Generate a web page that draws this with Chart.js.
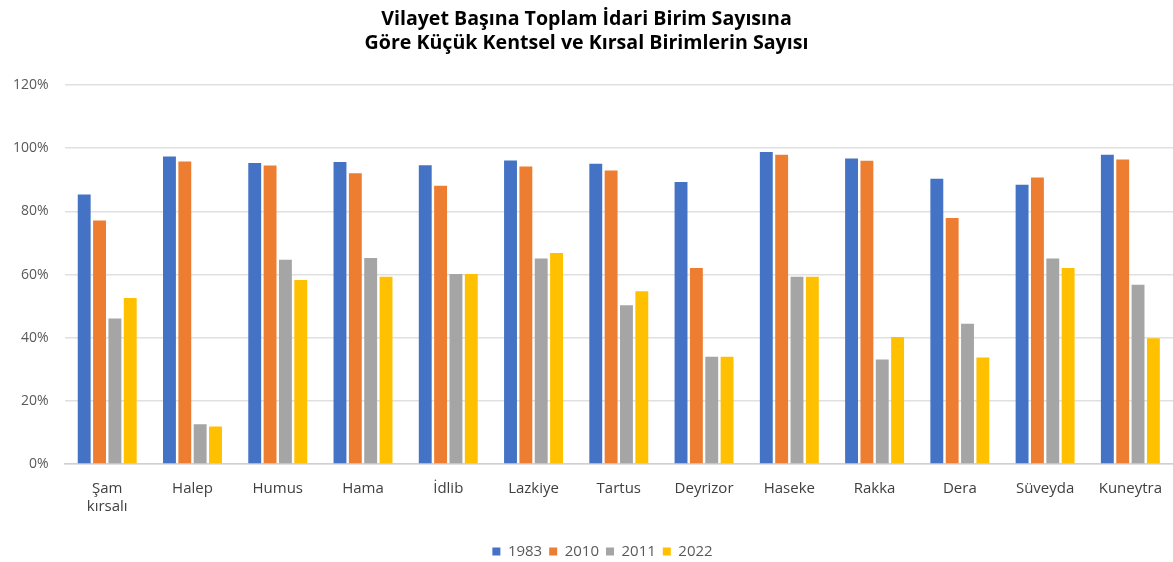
<!DOCTYPE html>
<html>
<head>
<meta charset="utf-8">
<script src="https://cdn.jsdelivr.net/npm/chart.js@4/dist/chart.umd.min.js"></script>
<style>
  html, body { margin: 0; padding: 0; background: #ffffff; }
  #wrap { width: 1173px; height: 562px; }
</style>
</head>
<body>
<div id="wrap"><canvas id="birimChart"></canvas></div>
<script>
// Vilayetler
const provinces = [['Şam', 'kırsalı'], 'Halep', 'Humus', 'Hama', 'İdlib', 'Lazkiye', 'Tartus',
    'Deyrizor', 'Haseke', 'Rakka', 'Dera', 'Süveyda', 'Kuneytra'];

// yüzde değerleri
const values1983 = [85.3, 97.4, 95.3, 95.6, 94.6, 96.1, 95.1, 89.3, 98.8, 96.7, 90.3, 88.4, 97.9];
const values2010 = [77.1, 95.8, 94.5, 92.1, 88.1, 94.2, 92.9, 62.1, 97.9, 96.0, 77.9, 90.7, 96.4];
const values2011 = [46.1, 12.6, 64.7, 65.2, 60.2, 65.1, 50.3, 34.0, 59.3, 33.1, 44.4, 65.1, 56.8];
const values2022 = [52.6, 11.9, 58.3, 59.3, 60.2, 66.8, 54.7, 34.0, 59.3, 40.2, 33.7, 62.1, 39.8];

const yTicks = [0, 20, 40, 60, 80, 100, 120];

const titleLines = ['Vilayet Başına Toplam İdari Birim Sayısına', 'Göre Küçük Kentsel ve Kırsal Birimlerin Sayısı'];

function makeSeries(label, data, color) {
    return {
        label: label,
        data: data,
        backgroundColor: color,
        borderWidth: 0,
        categoryPercentage: 0.72,
        barPercentage: 0.84
    };
}

// legend a little lower and to the right, like the original
const legendShift = {
    id: 'legendShift',
    afterLayout(chart) {
        chart.legend.top += 7;
        chart.legend.bottom += 7;
        chart.legend.left += 16;
        chart.legend.right += 16;
    }
};

const ctx = document.getElementById('birimChart').getContext('2d');

new Chart(ctx, {
    type: 'bar',
    data: {
        labels: provinces,
        datasets: [
            makeSeries('1983', values1983, '#4472c4'),
            makeSeries('2010', values2010, '#ed7d31'),
            makeSeries('2011', values2011, '#a5a5a5'),
            makeSeries('2022', values2022, '#ffc000')
        ]
    },
    plugins: [legendShift],
    options: {
        responsive: true,
        maintainAspectRatio: false,
        animation: false,
        layout: {
            padding: { left: 0, right: 0, top: 4, bottom: 0 }
        },
        plugins: {
            title: {
                display: true,
                text: titleLines,
                color: '#000000',
                font: { family: 'Open Sans', size: 19.6, weight: 'bold' },
                lineHeight: 1.15,
                padding: { top: 4, bottom: 30 }
            },
            legend: {
                position: 'bottom',
                labels: {
                    color: '#595959',
                    font: { family: 'Open Sans', size: 15 },
                    boxWidth: 8,
                    boxHeight: 8,
                    padding: 7
                }
            },
            tooltip: { enabled: false }
        },
        scales: {
            y: {
                min: 0,
                max: 120,
                afterBuildTicks: function(axis) {
                    axis.ticks = yTicks.map(v => ({ value: v }));
                },
                afterFit: function(scale) {
                    scale.width -= 3;
                },
                grid: {
                    color: '#e0e0e0',
                    lineWidth: 1.5,
                    drawTicks: false
                },
                border: { display: false },
                ticks: {
                    color: '#595959',
                    font: { family: 'Open Sans', size: 14 },
                    padding: 16,
                    callback: function(value) {
                        return value + '%';
                    }
                }
            },
            x: {
                grid: { display: false },
                border: { color: '#d0d0d0', width: 1.5 },
                afterFit: function(scale) {
                    scale.height += 6;
                },
                ticks: {
                    color: '#404040',
                    font: { family: 'Open Sans', size: 15 },
                    maxRotation: 0,
                    padding: 8
                }
            }
        }
    }
});
</script>
</body>
</html>
